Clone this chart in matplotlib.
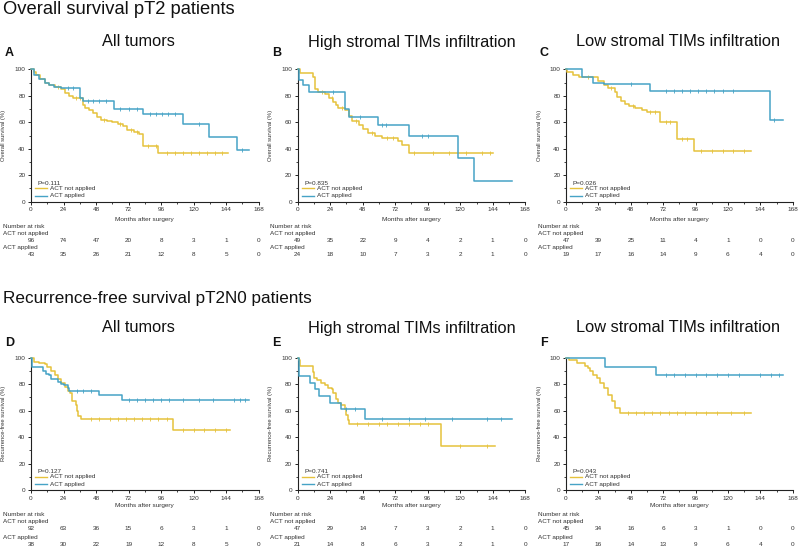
import matplotlib
matplotlib.use('Agg')
import matplotlib.pyplot as plt
import matplotlib.transforms as mtransforms
from matplotlib.ticker import MultipleLocator
import numpy as np

plt.rcParams['font.family'] = ['Liberation Sans', 'DejaVu Sans']

# ---------------- data ----------------
month_ticks = [0, 24, 48, 72, 96, 120, 144, 168]
groups = ['ACT not applied', 'ACT applied']
section_titles = ['Overall survival pT2 patients', 'Recurrence-free survival pT2N0 patients']
subtitles = ['All tumors', 'High stromal TIMs infiltration', 'Low stromal TIMs infiltration']
panel_letters = ['A', 'B', 'C', 'D', 'E', 'F']
y_labels = ['Overall survival (%)', 'Recurrence-free survival (%)']
p_values = ['P=0.111', 'P=0.835', 'P=0.026', 'P=0.127', 'P=0.741', 'P=0.043']

# Panel A
a_no_t = [0, 2, 4, 7, 10, 13, 18, 22, 25, 28, 31, 38, 40, 43, 46, 49, 52, 56, 60, 64, 68, 71, 76, 80, 83, 94, 145]
a_no_s = [100, 98, 96, 93, 90, 88, 87, 85, 82, 80, 78, 73, 71, 69, 67, 64, 62, 61, 60, 59, 57, 54, 53, 51, 42, 37, 37]
a_no_c = [20, 33, 36, 54, 66, 74, 78, 86, 92, 100, 106, 112, 118, 124, 130, 136, 141]
a_yes_t = [0, 2, 6, 10, 13, 17, 22, 36, 38, 61, 83, 112, 131, 152, 161]
a_yes_s = [100, 96, 93, 90, 88, 87, 86, 78, 76, 70, 66, 59, 49, 39, 39]
a_yes_c = [27, 31, 42, 46, 50, 55, 66, 72, 78, 88, 92, 97, 101, 106, 124, 156]
a_risk_no = [96, 74, 47, 20, 8, 3, 1, 0]
a_risk_yes = [43, 35, 26, 21, 12, 8, 5, 0]

# Panel B
b_no_t = [0, 2, 11, 13, 15, 20, 23, 26, 28, 30, 35, 38, 40, 45, 48, 52, 57, 62, 74, 77, 82, 144]
b_no_s = [100, 97, 94, 85, 83, 81, 78, 75, 73, 71, 69, 65, 61, 58, 55, 52, 50, 48, 46, 43, 37, 37]
b_no_c = [18, 25, 33, 43, 55, 66, 70, 86, 100, 112, 124, 136, 142]
b_yes_t = [0, 1, 4, 8, 35, 38, 59, 82, 118, 130, 158]
b_yes_s = [100, 92, 88, 83, 70, 64, 58, 50, 33, 16, 16]
b_yes_c = [26, 46, 62, 65, 92, 96]
b_risk_no = [49, 35, 22, 9, 4, 2, 1, 0]
b_risk_yes = [24, 18, 10, 7, 3, 2, 1, 0]

# Panel C
c_no_t = [0, 1, 5, 10, 24, 28, 31, 36, 38, 41, 44, 47, 51, 56, 60, 70, 82, 95, 137]
c_no_s = [100, 98, 96, 94, 91, 88, 86, 83, 79, 76, 74, 72, 71, 69, 68, 60, 47, 38, 38]
c_no_c = [16, 33, 50, 62, 66, 74, 77, 86, 90, 100, 108, 116, 124, 132]
c_yes_t = [0, 12, 20, 28, 62, 151, 161]
c_yes_s = [100, 94, 90, 89, 83.5, 62, 62]
c_yes_c = [48, 74, 80, 86, 92, 98, 104, 110, 116, 124, 154]
c_risk_no = [47, 39, 25, 11, 4, 1, 0, 0]
c_risk_yes = [19, 17, 16, 14, 9, 6, 4, 0]

# Panel D
d_no_t = [0, 2, 6, 10, 12, 15, 18, 20, 22, 25, 27, 29, 30, 33, 34, 35, 37, 105, 147]
d_no_s = [100, 97, 96, 95, 93, 90, 87, 84, 81, 78, 75, 73, 67, 64, 60, 56, 54, 45, 45]
d_no_c = [44, 50, 58, 64, 70, 76, 82, 88, 94, 100, 112, 120, 128, 136, 144]
d_yes_t = [0, 1, 9, 11, 13, 15, 20, 22, 24, 27, 28, 50, 67, 161]
d_yes_s = [100, 93, 90, 88, 87, 84, 82, 80, 79, 77, 75, 72, 68, 68]
d_yes_c = [34, 38, 44, 72, 78, 84, 90, 96, 102, 112, 124, 134, 150, 154, 158]
d_risk_no = [92, 63, 36, 15, 6, 3, 1, 0]
d_risk_yes = [38, 30, 22, 19, 12, 8, 5, 0]

# Panel E
e_no_t = [0, 1, 2, 11, 12, 14, 17, 20, 22, 25, 26, 28, 30, 32, 35, 36, 37, 38, 106, 146]
e_no_s = [100, 98, 94, 89, 85, 83, 81, 79, 77, 76, 73, 69, 66, 64, 61, 57, 53, 50, 33, 33]
e_no_c = [44, 52, 60, 66, 74, 82, 90, 96, 120, 140]
e_yes_t = [0, 1, 9, 13, 16, 24, 32, 50, 158]
e_yes_s = [100, 86, 81, 76, 71, 66, 61, 54, 54]
e_yes_c = [36, 42, 62, 82, 94, 114, 140, 150]
e_risk_no = [47, 29, 14, 7, 3, 2, 1, 0]
e_risk_yes = [21, 14, 8, 6, 3, 2, 1, 0]

# Panel F
f_no_t = [0, 2, 8, 14, 16, 18, 20, 23, 25, 28, 31, 34, 36, 40, 137]
f_no_s = [100, 98, 96, 94, 92, 90, 87, 85, 81, 77, 72, 67, 62, 58, 58]
f_no_c = [46, 52, 58, 64, 70, 76, 82, 88, 96, 104, 112, 122, 132]
f_yes_t = [0, 29, 67, 161]
f_yes_s = [100, 93, 87, 87]
f_yes_c = [74, 80, 88, 96, 104, 112, 120, 128, 144, 152, 158]
f_risk_no = [45, 34, 16, 6, 3, 1, 0, 0]
f_risk_yes = [17, 16, 14, 13, 9, 6, 4, 0]

# ---------------- styling ----------------
YELLOW = '#E6C23C'
BLUE = '#46A3C6'
W, H = 800, 547
FS = 4.6
TXT = '#333333'

fig = plt.figure(figsize=(W / 100, H / 100), dpi=100)

col_x = [(31, 258.7), (297.7, 525.3), (566, 792.7)]
row_y = [(69.3, 201.7), (357.7, 490.0)]        # pixel y of 100 and 0
title_y = [10, 299]
title_fs = [13.2, 12.3]
subtitle_y = [42, 328]
letter_y = [53, 343]
subtitle_x = [138, 412, 678]
# rows of the risk table (pixel y): xlabel, header, grp1 label, grp1 nums, grp2 label, grp2 nums
table_y = [(220, 226.5, 233.5, 240.5, 247.5, 254.5), (505, 514, 521.5, 529, 537, 544)]

panels = [
    (a_no_t, a_no_s, a_no_c, a_yes_t, a_yes_s, a_yes_c, a_risk_no, a_risk_yes),
    (b_no_t, b_no_s, b_no_c, b_yes_t, b_yes_s, b_yes_c, b_risk_no, b_risk_yes),
    (c_no_t, c_no_s, c_no_c, c_yes_t, c_yes_s, c_yes_c, c_risk_no, c_risk_yes),
    (d_no_t, d_no_s, d_no_c, d_yes_t, d_yes_s, d_yes_c, d_risk_no, d_risk_yes),
    (e_no_t, e_no_s, e_no_c, e_yes_t, e_yes_s, e_yes_c, e_risk_no, e_risk_yes),
    (f_no_t, f_no_s, f_no_c, f_yes_t, f_yes_s, f_yes_c, f_risk_no, f_risk_yes),
]


def fy(py):
    return 1 - py / H


def step_value(t, s, x):
    i = np.searchsorted(np.asarray(t), x, side='right') - 1
    return np.asarray(s)[i]


for r in range(2):
    fig.text(3 / W, fy(title_y[r]), section_titles[r], fontsize=title_fs[r], ha='left', va='center',
             color='#111111')
    for c in range(3):
        k = r * 3 + c
        x0, x1 = col_x[c]
        ytop, ybot = row_y[r]
        ax = fig.add_axes([x0 / W, fy(ybot), (x1 - x0) / W, (ybot - ytop) / H])
        no_t, no_s, no_c, yes_t, yes_s, yes_c, risk_no, risk_yes = panels[k]

        for t, s, cens, col in [(no_t, no_s, no_c, YELLOW), (yes_t, yes_s, yes_c, BLUE)]:
            ax.step(t, s, where='post', color=col, lw=1.1, clip_on=False, zorder=3)
            cy = [step_value(t, s, x) for x in cens]
            ax.plot(cens, cy, ls='none', marker='|', ms=3.0, mew=0.6, color=col, clip_on=False, zorder=3)

        ax.set_xlim(0, 168)
        ax.set_ylim(0, 100)
        ax.set_xticks(month_ticks)
        ax.set_yticks([0, 20, 40, 60, 80, 100])
        ax.xaxis.set_minor_locator(MultipleLocator(12))
        ax.yaxis.set_minor_locator(MultipleLocator(10))
        for sp in ['top', 'right']:
            ax.spines[sp].set_visible(False)
        for sp in ['left', 'bottom']:
            ax.spines[sp].set_linewidth(0.8)
            ax.spines[sp].set_color('#222222')
        ax.tick_params(which='major', length=2.5, width=0.7, labelsize=FS, pad=1.5, colors='#222222', labelcolor=TXT)
        ax.tick_params(which='minor', length=1.5, width=0.6, colors='#222222')
        ax.patch.set_alpha(0)

        # legend-like block
        ax.text(0.03, 0.14, p_values[k], transform=ax.transAxes, fontsize=FS, color=TXT, va='center', ha='left')
        for yy, col, lab in [(0.10, YELLOW, groups[0]), (0.045, BLUE, groups[1])]:
            ax.plot([0.018, 0.072], [yy, yy], transform=ax.transAxes, color=col, lw=1.0, clip_on=False)
            ax.text(0.085, yy, lab, transform=ax.transAxes, fontsize=FS, color=TXT, va='center', ha='left')

        # y label
        fig.text((x0 - 27) / W, fy((ytop + ybot) / 2), y_labels[r], rotation=90, fontsize=FS - 0.4,
                 ha='center', va='center', color=TXT)
        # subtitle and letter
        fig.text(subtitle_x[c] / W, fy(subtitle_y[r]), subtitles[c], fontsize=11.8, ha='center', va='center',
                 color='#111111')
        fig.text((x0 - 26) / W, fy(letter_y[r]), panel_letters[k], fontsize=9, fontweight='bold',
                 ha='left', va='center', color='#111111')

        # x label and risk table
        ty = table_y[r]
        tr = mtransforms.blended_transform_factory(ax.transData, fig.transFigure)
        ax.text(84, fy(ty[0]), 'Months after surgery', transform=tr, fontsize=FS, ha='center', va='center',
                color=TXT)
        lx = (x0 - 28) / W
        fig.text(lx, fy(ty[1]), 'Number at risk', fontsize=FS, ha='left', va='center', color=TXT)
        fig.text(lx, fy(ty[2]), groups[0], fontsize=FS, ha='left', va='center', color=TXT)
        fig.text(lx, fy(ty[4]), groups[1], fontsize=FS, ha='left', va='center', color=TXT)
        for m, n1, n2 in zip(month_ticks, risk_no, risk_yes):
            ax.text(m, fy(ty[3]), str(n1), transform=tr, fontsize=FS, ha='center', va='center', color=TXT)
            ax.text(m, fy(ty[5]), str(n2), transform=tr, fontsize=FS, ha='center', va='center', color=TXT)

fig.savefig('out.png', dpi=100)
